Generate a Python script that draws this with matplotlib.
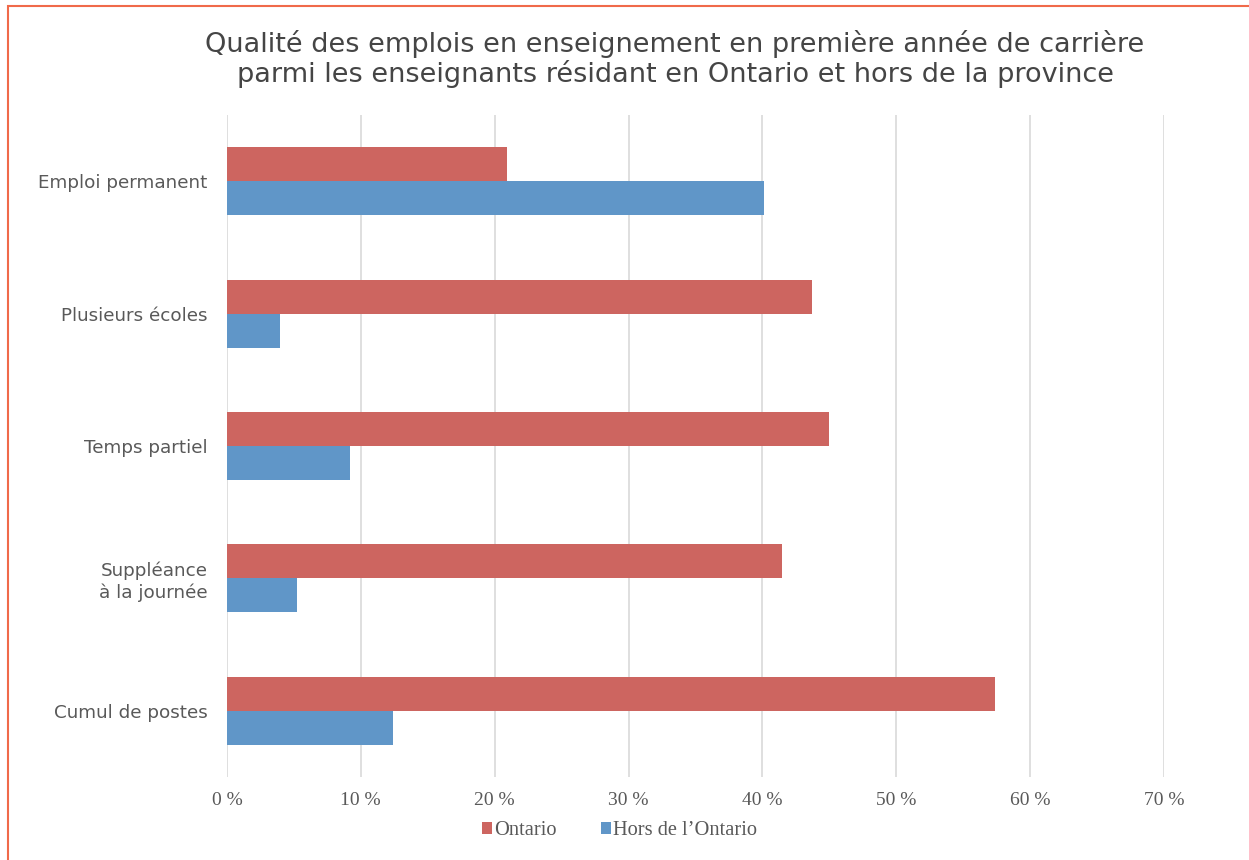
import numpy as np
import matplotlib
matplotlib.use("Agg")
from matplotlib import pyplot as plt
from matplotlib.patches import Rectangle

categories = ["Emploi permanent", "Plusieurs écoles", "Temps partiel",
              "Suppléance\nà la journée", "Cumul de postes"]
ontario = [20.9, 43.7, 45.0, 41.5, 57.4]
hors_ontario = [40.1, 4.0, 9.2, 5.2, 12.4]
xticks = [0, 10, 20, 30, 40, 50, 60, 70]

red = "#cd6560"
blue = "#6096c8"
grey_text = "#595959"

fig = plt.figure(figsize=(12.49, 8.6), dpi=100)
ax = fig.add_axes([0.1817, 0.0965, 0.7502, 0.7698])

y = np.arange(len(categories))
h = 0.257
ax.barh(y - h/2, ontario, height=h, color=red, label="Ontario", zorder=3)
ax.barh(y + h/2, hors_ontario, height=h, color=blue, label="Hors de l\u2019Ontario", zorder=3)

ax.set_ylim(len(categories) - 0.5, -0.5)
ax.set_xlim(0, 70)
ax.set_xticks(xticks)
ax.set_xticklabels([f"{t} %" for t in xticks], family="Liberation Serif",
                   fontsize=14, color=grey_text)
ax.set_yticks(y)
ax.set_yticklabels(categories, family="DejaVu Sans", fontsize=13.2, color=grey_text,
                   linespacing=1.2)
ax.tick_params(axis="both", length=0)
ax.tick_params(axis="x", pad=11)
ax.tick_params(axis="y", pad=14)
ax.grid(axis="x", color="#d9d9d9", linewidth=1.2, zorder=0)
for s in ax.spines.values():
    s.set_visible(False)

fig.text(0.5405, 0.931, "Qualité des emplois en enseignement en première année de carrière\n"
         "parmi les enseignants résidant en Ontario et hors de la province",
         ha="center", va="center", family="DejaVu Sans", fontsize=19.5,
         color="#454545", linespacing=1.1)

leg = fig.legend(loc="center", bbox_to_anchor=(0.496, 0.034), ncol=2, frameon=False,
                 prop={"family": "Liberation Serif", "size": 14.7},
                 handlelength=0.5, handleheight=0.5, handletextpad=0.1,
                 columnspacing=2.2)
for t in leg.get_texts():
    t.set_color(grey_text)

# frame around the figure
fig.add_artist(Rectangle((8/1249, -0.05), 1.2, 1 - 6/860 + 0.05, transform=fig.transFigure,
                         fill=False, edgecolor="#f06a4a", linewidth=1.5))

fig.savefig("out.png", dpi=100)
